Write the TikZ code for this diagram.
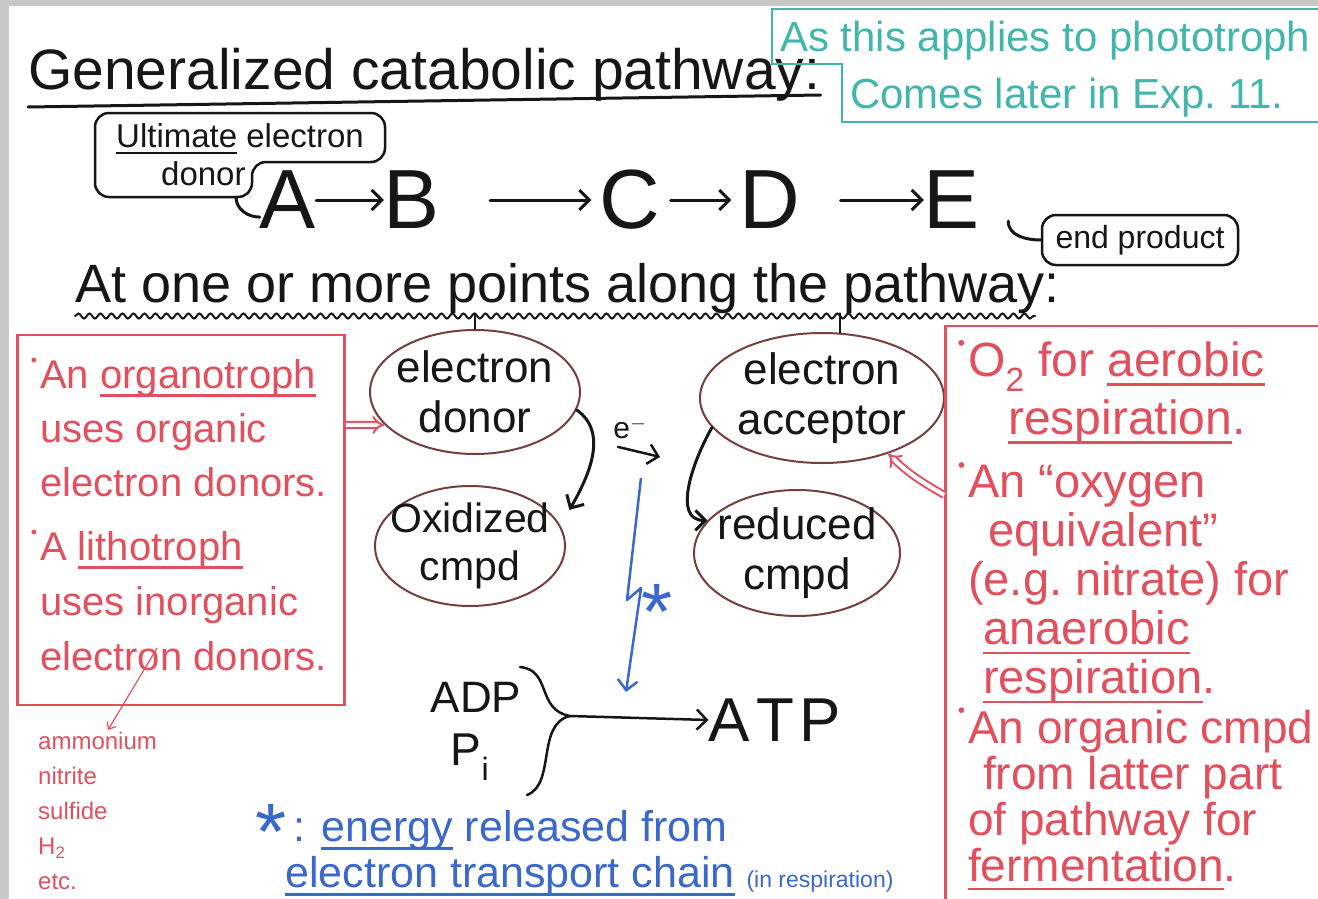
\documentclass[tikz,border=0pt]{standalone}
\usepackage{fontspec}
\setmainfont{Liberation Sans}
\usepackage{graphicx}
\usetikzlibrary{arrows.meta,shapes.geometric,decorations.pathmorphing,positioning}
\definecolor{boardred}{RGB}{226,80,94}
\definecolor{boardteal}{RGB}{66,182,170}
\definecolor{boardblue}{RGB}{58,104,204}
\definecolor{boardink}{RGB}{22,22,22}
\definecolor{ringbrown}{RGB}{118,62,60}
\definecolor{boardedge}{RGB}{200,200,200}
\newsavebox{\mkbox}
\newcommand{\mkline}[1]{\sbox{\mkbox}{#1}\rlap{\rule[-0.2em]{\wd\mkbox}{0.06em}}\usebox{\mkbox}}
\newcommand{\fsz}[2]{\fontsize{#1}{#2}\selectfont}
\newcommand{\bulletdot}{\llap{\raisebox{0.55em}{\scalebox{0.45}{\textbullet}}\hspace{3pt}}}
\newcommand{\notestar}{\raisebox{-0.42em}{\fsz{80}{80}*}}
\begin{document}
\begin{tikzpicture}[x=1pt,y=-1pt,
  ink/.style={draw=boardink,line width=3pt,line cap=round},
  inktext/.style={text=boardink,inner sep=0pt},
  redtext/.style={text=boardred,align=left,anchor=north west,inner sep=0pt},
  cmpdring/.style={ellipse,draw=ringbrown,line width=2pt,inner sep=-30pt,text=boardink,align=center,font=\fsz{44}{50}},
  inkarrow/.style={-{Straight Barb[length=10pt,width=20pt]}},
  dblarrow/.style={draw=boardred,double=white,double distance=4pt,line width=2pt,-{Implies}}]
  \path[use as bounding box] (0,0) rectangle (1318,899);
  \clip (0,0) rectangle (1318,899);
  \fill[white] (0,0) rectangle (1318,899);
  \fill[boardedge] (0,0) rectangle (1318,6);
  \fill[boardedge] (0,0) rectangle (9,899);
  \node[inktext,anchor=base west,font=\fsz{57}{60}] (title) at (28,90) {Generalized catabolic pathway:};
  \draw[ink] ([yshift=-17pt]title.base west) -- ([yshift=-5pt]title.base east);
  \draw[boardteal,line width=2.5pt] (1318,9) -- (772,9) -- (772,64) -- (842,64) -- (842,122) -- (1318,122);
  \node[anchor=base west,text=boardteal,font=\fsz{42}{44},inner sep=0pt] (teal1) at (780,52) {As this applies to phototroph};
  \node[anchor=base west,text=boardteal,font=\fsz{42}{44},inner sep=0pt] (teal2) at (850,108) {Comes later in Exp.\ 11.};
  \node[text=boardink,align=left,font=\fsz{33}{38},inner sep=0pt] (ultimate) at (240,155) {\mkline{Ultimate} electron\\\hspace*{45pt}donor};
  \draw[ink,line width=2.5pt,rounded corners=14pt] (95,113) -- (385,113) -- (385,162) -- (252,162) -- (252,197) -- (95,197) -- cycle;
  \coordinate (notch) at (236,197);
  \node[inktext,font=\fsz{84}{90}] (A) at (288,200) {A};
  \node[inktext,font=\fsz{84}{90}] (B) at (412,200) {B};
  \node[inktext,font=\fsz{84}{90}] (C) at (630,200) {C};
  \node[inktext,font=\fsz{84}{90}] (D) at (770,200) {D};
  \node[inktext,font=\fsz{84}{90}] (E) at (952,200) {E};
  \draw[ink,inkarrow] (A) -- (B);
  \draw[ink,inkarrow,shorten <=50pt,shorten >=8pt] (B) -- (C);
  \draw[ink,inkarrow,shorten <=10pt,shorten >=8pt] (C) -- (D);
  \draw[ink,inkarrow,shorten <=40pt] (D) -- (E);
  \draw[ink] (notch) to[out=-90,in=180] ([yshift=12pt]A.south west);
  \node[draw=boardink,line width=2.5pt,rounded corners=14pt,text=boardink,font=\fsz{32}{34},minimum width=196pt,minimum height=50pt] (endprod) at (1140,240) {end product};
  \draw[ink] ([xshift=28pt,yshift=8pt]E.south east) to[out=-90,in=180] (endprod.west);
  \node[inktext,anchor=base west,font=\fsz{54}{58}] (along) at (75,302) {At one or more points along the pathway:};
  \draw[ink,line width=2pt,decorate,decoration={snake,amplitude=2.5pt,segment length=11pt}] ([yshift=-14pt]along.base west) -- ([xshift=-25pt,yshift=-14pt]along.base east);
  \node[draw=boardred,line width=2.5pt,minimum width=327pt,minimum height=370pt] (orgbox) at (181,520) {};
  \node[redtext,font=\fsz{40}{54}] (orgtxt) at (40,358) {\bulletdot An \mkline{organotroph}\\uses organic\\electron donors.};
  \node[redtext,font=\fsz{40}{55}] (lithotxt) at (40,530) {\bulletdot A \mkline{lithotroph}\\uses inorganic\\electron donors.};
  \coordinate (lithotick) at (157,648);
  \node[redtext,font=\fsz{24}{35}] (ammon) at (38,732) {ammonium\\nitrite\\sulfide\\H\textsubscript{2}\\etc.};
  \draw[boardred,line width=1.2pt,-{Straight Barb[length=6pt,width=10pt]}] (lithotick) -- ([xshift=70pt,yshift=2pt]ammon.north west);
  \node[cmpdring,minimum width=210pt,minimum height=124pt] (donor) at (475,392) {electron\\donor};
  \node[cmpdring,minimum width=190pt,minimum height=120pt,font=\fsz{41}{48}] (oxid) at (470,546) {Oxidized\\cmpd};
  \node[cmpdring,minimum width=244pt,minimum height=130pt] (acceptor) at (822,398) {electron\\acceptor};
  \node[cmpdring,minimum width=206pt,minimum height=126pt] (reduced) at (797,553) {reduced\\cmpd};
  \draw[ink,line width=2pt] (donor.north) -- (donor.north |- along.south);
  \draw[ink,line width=2pt] (acceptor.75) -- (acceptor.75 |- along.south);
  \draw[dblarrow] ([yshift=95pt]orgbox.east) -- (donor.200);
  \draw[ink,inkarrow] (donor.-10) to[out=-35,in=60] ([xshift=22pt]oxid.25);
  \draw[ink,inkarrow] (acceptor.195) to[out=-120,in=180] (reduced.160);
  \node[inktext,font=\fsz{30}{32}] (elec) at (630,428) {e$^-$};
  \draw[ink,line width=2.5pt,inkarrow] ([xshift=-12pt,yshift=-8pt]elec.south) -- ([xshift=30pt,yshift=-18pt]elec.south);
  \coordinate (bolttop) at (641,478);
  \coordinate (boltend) at (626,692);
  \draw[boardblue,line width=2.5pt,line join=round,inkarrow] (bolttop) -- (627,600) -- (641,588) -- (boltend);
  \node[text=boardblue,inner sep=0pt] (star) at (657,612) {\notestar};
  \node[inktext,font=\fsz{44}{50}] (adp) at (476,697) {ADP};
  \node[inktext,font=\fsz{46}{50}] (pi) at (470,757) {P\textsubscript{i}};
  \coordinate (bracetip) at (570,716);
  \draw[ink,line width=2.5pt] (520,667) .. controls (552,670) and (536,710) .. (bracetip) .. controls (536,724) and (556,784) .. (527,795);
  \node[inktext,font=\fsz{62}{64}] (atp) at (775,720) {A\kern6pt T\kern6pt P};
  \draw[ink,line width=2.5pt,inkarrow] (bracetip) -- (atp.west);
  \node[anchor=north west,text=boardblue,align=left,inner sep=0pt,font=\fsz{43}{46}] (note) at (255,810) {\smash{\notestar}\,: \mkline{energy} released from\\\hspace*{30pt}\mkline{electron transport chain} {\fsz{23}{26}(in respiration)}};
  \node[draw=boardred,line width=2.5pt,minimum width=385pt,minimum height=590pt] (accbox) at (1138,621) {};
  \draw[dblarrow] ([yshift=126pt]accbox.west) to[out=150,in=-45] (acceptor.-40);
  \node[redtext,font=\fsz{48}{58}] (o2txt) at (968,340) {\bulletdot O\textsubscript{2} for \mkline{aerobic}\\\hspace*{40pt}\mkline{respiration}.};
  \node[redtext,font=\fsz{47}{49}] (oxytxt) at (968,462) {\bulletdot An ``oxygen\\\hspace*{20pt}equivalent''\\(e.g.\ nitrate) for\\\hspace*{15pt}\mkline{anaerobic}\\\hspace*{15pt}\mkline{respiration}.};
  \node[redtext,font=\fsz{46}{46}] (fermtxt) at (968,708) {\bulletdot An organic cmpd\\\hspace*{15pt}from latter part\\of pathway for\\\mkline{fermentation}.};
\end{tikzpicture}
\end{document}
